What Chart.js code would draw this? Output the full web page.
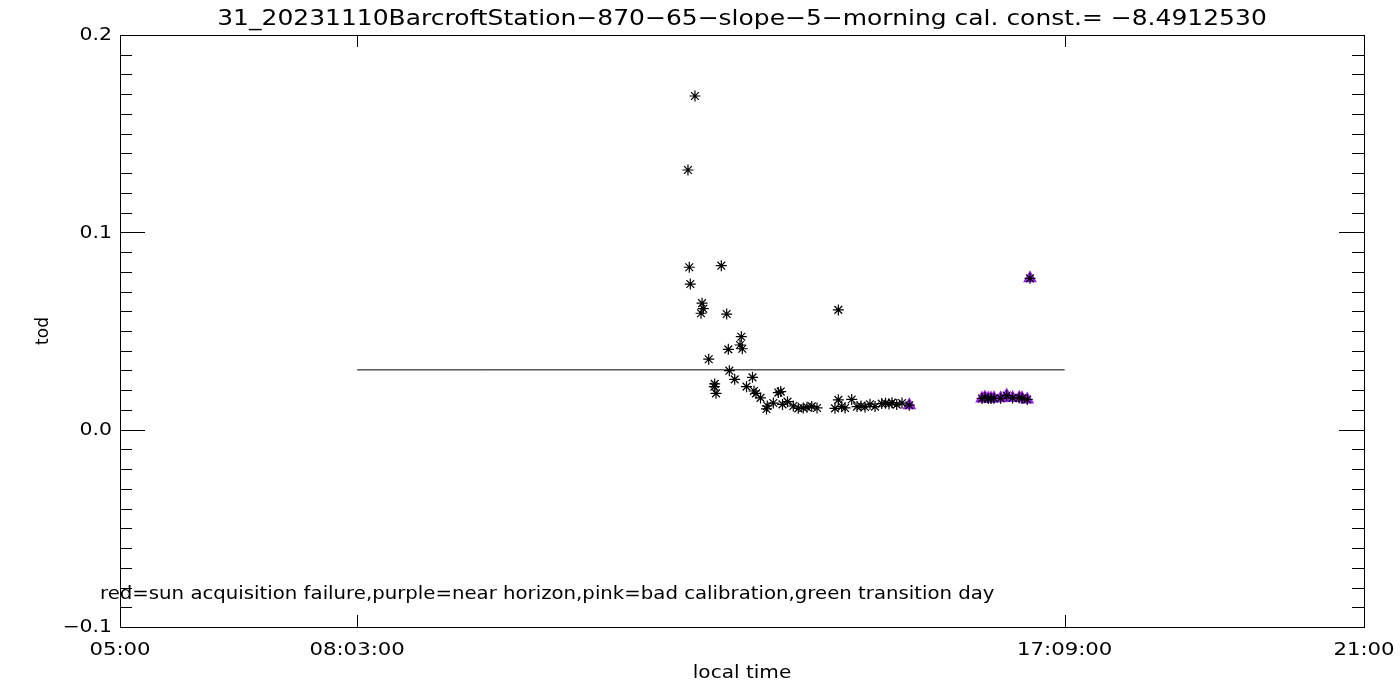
<!DOCTYPE html>
<html>
<head>
<meta charset="utf-8">
<script src="https://cdn.jsdelivr.net/npm/chart.js@4.4.0/dist/chart.umd.min.js"></script>
<style>
  html, body { margin: 0; padding: 0; background: #fff; }
  #wrap { width: 1400px; height: 700px; }
</style>
</head>
<body>
<div id="wrap"><canvas id="chart" width="1400" height="700"></canvas></div>
<script>
// local time in hours, tod values
const timeHours = [
  12.305, 12.395, 12.322, 12.335, 12.734, 12.486, 12.502, 12.473, 12.803, 12.991,
  12.974, 13.004, 12.824, 12.572, 12.837, 12.906, 12.649, 12.644, 12.666, 13.135,
  13.058, 13.154, 13.180, 13.238, 13.325, 13.315, 13.403, 13.467, 13.498, 13.521,
  13.585, 13.660, 13.724, 13.788, 13.836, 13.897, 13.965, 14.196, 14.239, 14.239,
  14.283, 14.325, 14.411, 14.479, 14.531, 14.582, 14.646, 14.711, 14.797, 14.846,
  14.891, 14.929, 14.990, 15.058, 15.152,
  16.087, 16.125, 16.168, 16.203, 16.241, 16.327, 16.404, 16.481, 16.566, 16.601,
  16.669, 16.704
];
const todValues = [
  0.1316, 0.1691, 0.0823, 0.0738, 0.0831, 0.0641, 0.0613, 0.0590, 0.0586, 0.0471,
  0.0429, 0.0410, 0.0407, 0.0357, 0.0299, 0.0255, 0.0232, 0.0218, 0.0184, 0.0265,
  0.0218, 0.0196, 0.0184, 0.0161, 0.0120, 0.0105, 0.0135, 0.0188, 0.0193, 0.0128,
  0.0142, 0.0120, 0.0108, 0.0110, 0.0114, 0.0118, 0.0110, 0.0108, 0.0151, 0.0607,
  0.0117, 0.0110, 0.0153, 0.0117, 0.0120, 0.0115, 0.0129, 0.0117, 0.0132, 0.0134,
  0.0130, 0.0137, 0.0127, 0.0135, 0.0124,
  0.0158, 0.0163, 0.0158, 0.0158, 0.0159, 0.0159, 0.0173, 0.0161, 0.0162, 0.0159,
  0.0153, 0.0767
];
// points flagged near horizon (purple)
const horizonTime = [15.152, 16.087, 16.125, 16.168, 16.203, 16.241, 16.327, 16.404, 16.481, 16.566, 16.601, 16.669, 16.704];
const horizonTod  = [0.0124, 0.0158, 0.0163, 0.0158, 0.0158, 0.0159, 0.0159, 0.0173, 0.0161, 0.0162, 0.0159, 0.0153, 0.0767];

// mean line between the calibration window
const meanTime = [8.05, 17.15];
const meanTod  = [0.0303, 0.0303];

const xTickValues = [5, 8.05, 17.15, 21];
const xTickLabels = ['05:00', '08:03:00', '17:09:00', '21:00'];
const yTickValues = [-0.1, 0.0, 0.1, 0.2];
const yTickLabels = ['\u22120.1', '0.0', '0.1', '0.2'];
const yMinorStep = 0.01;

const titleText = '31_20231110BarcroftStation\u2212870\u221265\u2212slope\u22125\u2212morning cal. const.= \u22128.4912530';
const noteText = 'red=sun acquisition failure,purple=near horizon,pink=bad calibration,green transition day';
const FONT = '"DejaVu Sans", sans-serif';

// the IDL vector font is wide, so stretch text horizontally
function wideText(ctx, text, x, y, sx) {
  ctx.save();
  ctx.translate(x, y);
  ctx.scale(sx, 1);
  ctx.fillText(text, 0, 0);
  ctx.restore();
}

const idlFrame = {
  id: 'idlFrame',
  afterDatasetsDraw(chart) {
    const ctx = chart.ctx;
    const a = chart.chartArea;
    const xs = chart.scales.x, ys = chart.scales.y;
    ctx.save();
    ctx.strokeStyle = '#000';
    ctx.fillStyle = '#000';
    ctx.lineWidth = 1;
    ctx.strokeRect(Math.round(a.left) + 0.5, Math.round(a.top) + 0.5,
                   Math.round(a.right - a.left), Math.round(a.bottom - a.top));

    // y ticks, inward on both sides
    ctx.beginPath();
    for (let v = -0.1; v <= 0.2001; v += yMinorStep) {
      const py = Math.round(ys.getPixelForValue(v)) + 0.5;
      const major = Math.abs(v * 10 - Math.round(v * 10)) < 1e-6;
      const len = major ? 25 : 12;
      ctx.moveTo(a.left, py); ctx.lineTo(a.left + len, py);
      ctx.moveTo(a.right, py); ctx.lineTo(a.right - len, py);
    }
    // x ticks, inward top and bottom
    xTickValues.forEach(v => {
      const px = Math.round(xs.getPixelForValue(v)) + 0.5;
      ctx.moveTo(px, a.bottom); ctx.lineTo(px, a.bottom - 12);
      ctx.moveTo(px, a.top); ctx.lineTo(px, a.top + 12);
    });
    ctx.stroke();

    // tick labels
    ctx.font = '17px ' + FONT;
    ctx.textAlign = 'right';
    ctx.textBaseline = 'middle';
    yTickValues.forEach((v, i) => {
      wideText(ctx, yTickLabels[i], a.left - 8, ys.getPixelForValue(v) + 1, 1.2);
    });
    ctx.textAlign = 'center';
    ctx.textBaseline = 'alphabetic';
    xTickValues.forEach((v, i) => {
      wideText(ctx, xTickLabels[i], xs.getPixelForValue(v), a.bottom + 28, 1.25);
    });

    // axis titles
    wideText(ctx, 'local time', (a.left + a.right) / 2, a.bottom + 51, 1.18);
    ctx.save();
    ctx.translate(48, (a.top + a.bottom) / 2);
    ctx.rotate(-Math.PI / 2);
    ctx.fillText('tod', 0, 0);
    ctx.restore();

    // title
    ctx.font = '22px ' + FONT;
    wideText(ctx, titleText, (a.left + a.right) / 2, 25, 1.135);

    // flag note
    ctx.font = '17px ' + FONT;
    ctx.textAlign = 'left';
    wideText(ctx, noteText, 100, 599, 1.16);
    ctx.restore();
  }
};

new Chart(document.getElementById('chart'), {
  type: 'scatter',
  data: {
    datasets: [
      {
        data: timeHours.map((t, i) => ({ x: t, y: todValues[i] })),
        pointStyle: 'star',
        pointRadius: 5.5,
        borderColor: '#000',
        borderWidth: 1.2,
        order: 0
      },
      {
        data: horizonTime.map((t, i) => ({ x: t, y: horizonTod[i] })),
        pointStyle: 'triangle',
        pointRadius: 6,
        backgroundColor: '#a020f0',
        borderColor: '#a020f0',
        borderWidth: 2,
        order: 1
      },
      {
        type: 'line',
        data: meanTime.map((t, i) => ({ x: t, y: meanTod[i] })),
        borderColor: '#000',
        borderWidth: 1,
        pointRadius: 0,
        order: 2
      }
    ]
  },
  options: {
    responsive: false,
    animation: false,
    events: [],
    layout: { padding: { left: 120, right: 36, top: 35, bottom: 73 } },
    plugins: {
      legend: { display: false },
      tooltip: { enabled: false }
    },
    scales: {
      x: { type: 'linear', min: 5, max: 21, display: false },
      y: { type: 'linear', min: -0.1, max: 0.2, display: false }
    }
  },
  plugins: [idlFrame]
});
</script>
</body>
</html>
